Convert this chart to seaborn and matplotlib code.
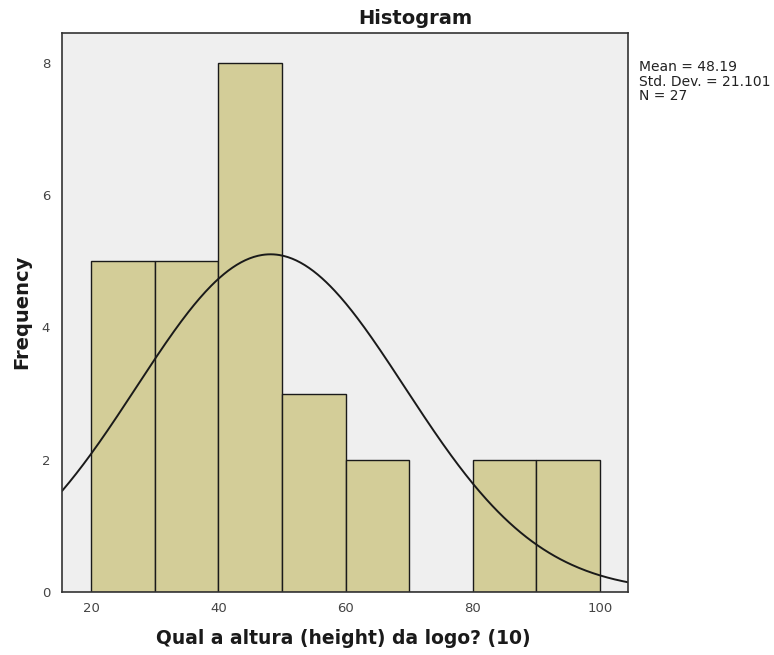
import numpy as np
import pandas as pd
import matplotlib
matplotlib.use("Agg")
import matplotlib.pyplot as plt
import seaborn as sns

# Histogram bins and frequencies
bin_edges = [20, 30, 40, 50, 60, 70, 80, 90, 100]
bin_centers = [25, 35, 45, 55, 65, 75, 85, 95]
frequencies = [5, 5, 8, 3, 2, 0, 2, 2]

# Summary statistics shown beside the plot
mean_value = 48.19
std_dev = 21.101
n_obs = 27
bin_width = 10

x_ticks = [20, 40, 60, 80, 100]
y_ticks = [0, 2, 4, 6, 8]

df = pd.DataFrame({"value": bin_centers, "count": frequencies})

sns.set_style("white")
plt.rcParams["font.family"] = ["DejaVu Sans"]

fig = plt.figure(figsize=(7.74, 6.55), dpi=100)
ax = fig.add_axes([0.0801, 0.0962, 0.7313, 0.8534])
ax.set_facecolor("#efefef")

sns.histplot(data=df, x="value", weights="count", bins=bin_edges, ax=ax,
             color="#d3cd98", alpha=1.0, edgecolor="#1a1a1a", linewidth=1.0)

# Normal curve scaled to counts
xs = np.linspace(15.4, 104.5, 400)
ys = n_obs * bin_width / (std_dev * np.sqrt(2 * np.pi)) * np.exp(-0.5 * ((xs - mean_value) / std_dev) ** 2)
ax.plot(xs, ys, color="#1a1a1a", linewidth=1.4)

ax.set_xlim(15.4, 104.4)
ax.set_ylim(0, 8.45)
ax.set_xticks(x_ticks)
ax.set_yticks(y_ticks)
ax.tick_params(axis="both", labelsize=9.5, colors="#444444", length=5, width=1.2)
ax.tick_params(axis="x", length=0, pad=7)
for s in ax.spines.values():
    s.set_color("#333333")
    s.set_linewidth(1.2)

ax.set_xlabel("")
ax.set_ylabel("")
fig.text(343 / 774, 1 - 639 / 655, "Qual a altura (height) da logo? (10)",
         ha="center", va="center", fontsize=13.5, fontweight="bold", color="#1a1a1a")
fig.text(22 / 774, 1 - 312 / 655, "Frequency", rotation=90,
         ha="center", va="center", fontsize=14, fontweight="bold", color="#1a1a1a")
fig.text(415 / 774, 1 - 18 / 655, "Histogram",
         ha="center", va="center", fontsize=14, fontweight="bold", color="#1a1a1a")

fig.text(639 / 774, 1 - 60 / 655,
         f"Mean = {mean_value:.2f}\nStd. Dev. = {std_dev:.3f}\nN = {n_obs}",
         ha="left", va="top", fontsize=10, color="#222222", linespacing=1.05)

fig.savefig("out.png", dpi=100, facecolor="white")
